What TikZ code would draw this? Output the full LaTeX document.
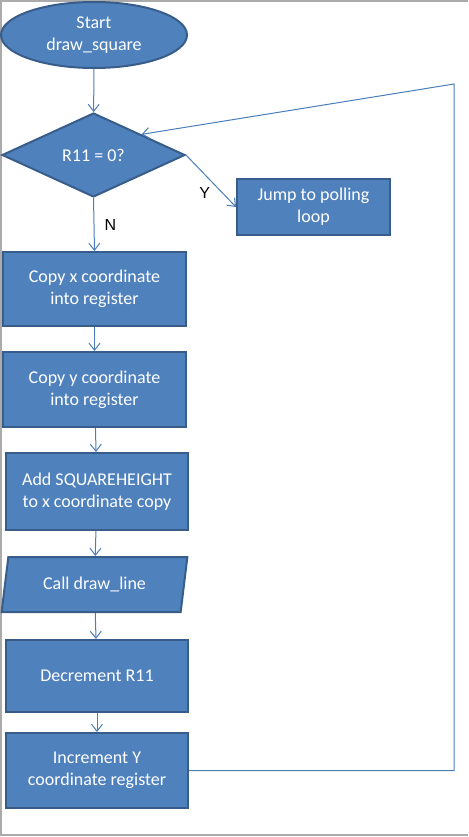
\documentclass[tikz,border=0pt]{standalone}
\usepackage{fontspec}
\setmainfont{Carlito}
\newfontfamily\labelfont{Liberation Sans}
\usetikzlibrary{calc,arrows.meta,shapes.geometric}

\definecolor{boxfill}{HTML}{4F81BD}
\definecolor{boxline}{HTML}{385D8A}
\definecolor{flowline}{HTML}{4A7EBB}
\definecolor{pageline}{HTML}{ABABAB}

\begin{document}
\begin{tikzpicture}[
  x=1pt, y=-1pt,
  every node/.style={inner sep=0pt, align=center, text=white,
    font=\fontsize{18}{22}\selectfont},
  shape box/.style={fill=boxfill, draw=boxline, line width=2pt},
  procbox/.style={shape box, rectangle, minimum width=182pt},
  startbox/.style={shape box, ellipse, minimum width=186pt, minimum height=66pt},
  decbox/.style={shape box, diamond, minimum width=183pt, minimum height=84pt},
  iobox/.style={shape box, trapezium, trapezium left angle=75, trapezium right angle=105,
    trapezium stretches=true, minimum width=186pt, minimum height=55pt},
  flow/.style={draw=flowline, line width=1pt, -{Straight Barb[length=7pt,width=11pt]}},
  branch/.style={text=black, font=\labelfont\fontsize{16}{18}\selectfont}
]
\useasboundingbox (0,0) rectangle (468,837);
% page border
\draw[pageline, line width=2pt] (468,1) -- (1,1) -- (1,835) -- (468,835);

\node[startbox] (start) at (94,35) {Start\\draw\_square};
\node[decbox] (test) at (93.5,155) {R11 = 0?};
\node[procbox, minimum width=153pt, minimum height=56pt] (jump) at (313.5,207) {Jump to polling\\loop};
\node[procbox, minimum width=183pt, minimum height=74pt] (copyx) at (94.5,289) {Copy x coordinate\\into register};
\node[procbox, minimum width=183pt, minimum height=75pt] (copyy) at (94.5,389.5) {Copy y coordinate\\into register};
\node[procbox, minimum height=77pt] (addsq) at (97,491.5) {Add SQUAREHEIGHT\\to x coordinate copy};
\node[iobox] (call) at (94.5,584.5) {Call draw\_line};
\node[procbox, minimum height=72pt] (decr) at (97,676) {Decrement R11};
\node[procbox, minimum height=75pt] (incr) at (97,770.5) {Increment Y\\coordinate register};

\coordinate (back) at ($(test.north)!0.52!(test.east)$);

\draw[flow] (start) -- (test);
\draw[flow] (test.south) -- node[branch, right=10pt, pos=0.5] {N} (copyx.north);
\draw[flow] (test.east) -- node[branch, below left=3pt, pos=0.55] {Y} (jump.west);
\draw[flow] (copyx) -- (copyy);
\draw[flow] (copyy) -- (addsq);
\draw[flow] (addsq) -- (call);
\draw[flow] (call) -- (decr);
\draw[flow] (decr) -- (incr);
\draw[flow] (incr.east) -- (454,770.5) -- (454,84) -- (back);
\end{tikzpicture}
\end{document}
